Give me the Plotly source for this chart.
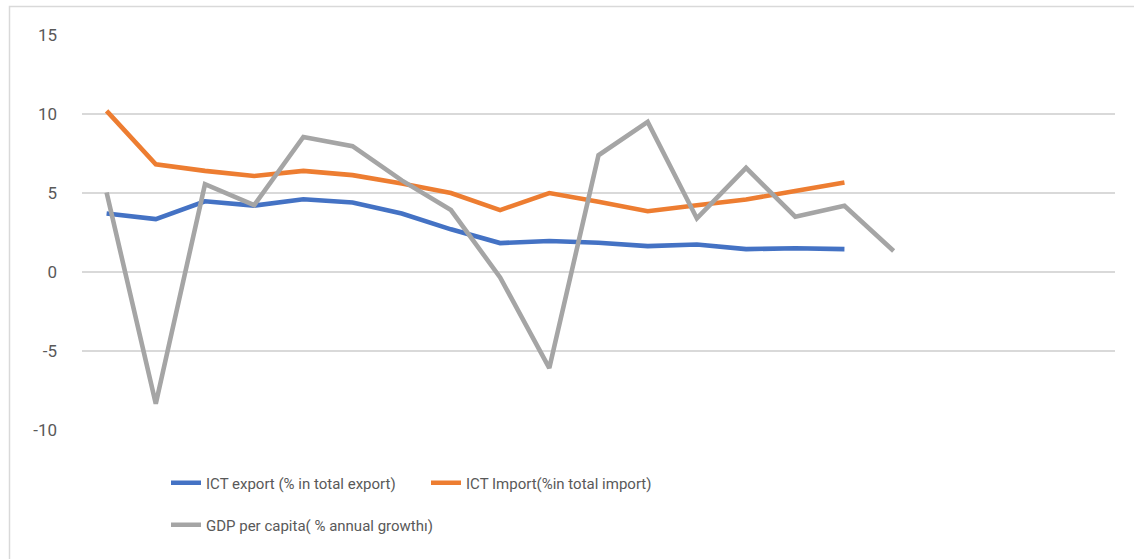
import plotly.graph_objects as go

# 21 category slots on the x axis, unlabeled in the source chart
periods = list(range(21))

ict_export = [3.7, 3.35, 4.48, 4.2, 4.6, 4.4, 3.7, 2.7, 1.83, 1.96, 1.85, 1.64, 1.74, 1.45, 1.5, 1.45]
ict_import = [10.2, 6.82, 6.4, 6.08, 6.4, 6.13, 5.6, 5.0, 3.92, 5.0, 4.44, 3.85, 4.23, 4.59, 5.13, 5.67]
gdp_growth = [5.03, -8.34, 5.56, 4.23, 8.55, 7.96, 5.8, 3.92, -0.34, -6.08, 7.39, 9.5, 3.39, 6.59, 3.5, 4.19, 1.33]

y_ticks = [-10, -5, 0, 5, 10, 15]
y_tick_labels = ["-10", "-5", "0", "5", "10", "15"]

names = ["ICT export (% in total export)", "ICT Import(%in total import)", "GDP per capita( % annual growthı)"]
colors = ["#4472C4", "#ED7D31", "#A5A5A5"]

font_family = "Roboto, Liberation Sans, sans-serif"

W, H = 1134, 559
L, R, T, B = 82, 19, 35, 129
pw, ph = W - L - R, H - T - B


def px_x(p):
    return (p - L) / pw


def px_y(p):
    return (H - B - p) / ph


fig = go.Figure()
fig.add_trace(go.Scatter(x=periods[:len(ict_export)], y=ict_export, mode="lines", name=names[0],
                         line=dict(color=colors[0], width=4.6), legend="legend"))
fig.add_trace(go.Scatter(x=periods[:len(ict_import)], y=ict_import, mode="lines", name=names[1],
                         line=dict(color=colors[1], width=4.6), legend="legend"))
fig.add_trace(go.Scatter(x=periods[:len(gdp_growth)], y=gdp_growth, mode="lines", name=names[2],
                         line=dict(color=colors[2], width=4.6), legend="legend2"))

# outer chart border
fig.add_shape(type="rect", xref="paper", yref="paper",
              x0=px_x(9.5), x1=px_x(1145), y0=px_y(6.5), y1=px_y(570),
              line=dict(color="#D9D9D9", width=1.5), layer="below")

legend_font = dict(family=font_family, size=15, color="#595959")

fig.update_layout(
    width=W, height=H,
    margin=dict(l=L, r=R, t=T, b=B, autoexpand=False),
    plot_bgcolor="white", paper_bgcolor="white",
    showlegend=True,
    xaxis=dict(range=[-0.5, 20.5], showticklabels=False, showgrid=False, zeroline=False,
               showline=False, ticks=""),
    yaxis=dict(range=[-10, 15], tickvals=y_ticks, ticktext=y_tick_labels,
               showgrid=True, gridcolor="#D9D9D9", gridwidth=1.5,
               zeroline=True, zerolinecolor="#D9D9D9", zerolinewidth=1.5, showline=False,
               ticks="", ticklabelstandoff=24,
               tickfont=dict(family=font_family, size=17, color="#595959")),
    legend=dict(orientation="h", x=px_x(166), y=px_y(483), xanchor="left", yanchor="middle",
                font=legend_font, entrywidth=215, entrywidthmode="pixels",
                bgcolor="rgba(0,0,0,0)"),
    legend2=dict(orientation="h", x=px_x(166), y=px_y(525), xanchor="left", yanchor="middle",
                 font=legend_font, bgcolor="rgba(0,0,0,0)"),
)

# drop the browser's default 8px body margin so the figure sits at the page origin
fig.write_html("out.html", config={"displayModeBar": False},
               post_script="document.body.style.margin='0';")
